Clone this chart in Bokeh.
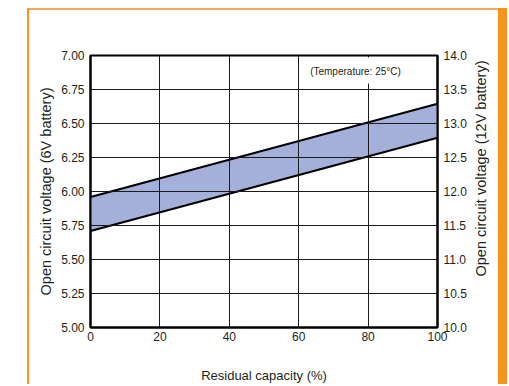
import math
from bokeh.plotting import figure
from bokeh.models import (Range1d, LinearAxis, FixedTicker, NumeralTickFormatter,
                          BoxAnnotation, Label)
from bokeh.embed import file_html
from bokeh.resources import INLINE

# ---- data ----
capacity = [0, 100]                 # residual capacity (%)
upper_6v = [5.96, 6.645]            # upper edge of band (6V battery)
lower_6v = [5.71, 6.395]            # lower edge of band (6V battery)
x_ticks = [0, 20, 40, 60, 80, 100]
y6_ticks = [5.00, 5.25, 5.50, 5.75, 6.00, 6.25, 6.50, 6.75, 7.00]
y12_ticks = [10.0, 10.5, 11.0, 11.5, 12.0, 12.5, 13.0, 13.5, 14.0]
note = "(Temperature: 25°C)"
x_title = "Residual capacity (%)"
y6_title = "Open circuit voltage (6V battery)"
y12_title = "Open circuit voltage (12V battery)"

FONT = "Liberation Sans"
TXT = "#231F20"
ORANGE = "#F7941D"

p = figure(width=471, height=376, output_backend="svg", toolbar_location=None,
           x_range=Range1d(0, 100), y_range=Range1d(5, 7),
           min_border_left=61, min_border_right=63, min_border_top=45,
           min_border_bottom=59)
p.styles = {"margin-left": "27px",
            "margin-top": "8px",
            "border-left": "2px solid " + ORANGE,
            "border-top": "2px solid #F9A75E",
            "box-shadow": "9px 0 0 0 " + ORANGE}

p.extra_y_ranges = {"v12": Range1d(10, 14)}

p.background_fill_color = "white"
p.border_fill_color = "white"
p.outline_line_color = "black"
p.outline_line_width = 2

# band
p.varea(x=capacity, y1=lower_6v, y2=upper_6v, fill_color="#A4AFDA",
        fill_alpha=1.0, level="underlay")
p.line(capacity, upper_6v, line_color="black", line_width=2)
p.line(capacity, lower_6v, line_color="black", line_width=2)

# grids
for g in (p.xgrid, p.ygrid):
    g.grid_line_color = "#1a1a1a"
    g.grid_line_width = 1
    g.grid_line_alpha = 1.0
    g.level = "glyph"

# axes
p.xaxis.ticker = FixedTicker(ticks=x_ticks)
p.yaxis.ticker = FixedTicker(ticks=y6_ticks)
p.yaxis.formatter = NumeralTickFormatter(format="0.00")
p.xaxis.axis_label = x_title
p.yaxis.axis_label = y6_title

right = LinearAxis(y_range_name="v12", ticker=FixedTicker(ticks=y12_ticks),
                   formatter=NumeralTickFormatter(format="0.0"))
p.add_layout(right, "right")

for ax in (p.xaxis[0], p.yaxis[0], right):
    ax.axis_line_color = "black"
    ax.axis_line_width = 2
    ax.major_tick_in = 0
    ax.major_tick_out = 0
    ax.minor_tick_in = 0
    ax.minor_tick_out = 0
    ax.major_label_text_font = FONT
    ax.major_label_text_font_size = "12px"
    ax.major_label_text_color = TXT
    ax.axis_label_text_font = FONT
    ax.axis_label_text_font_style = "normal"
    ax.axis_label_text_color = TXT

p.xaxis.major_label_standoff = 4
p.xaxis.axis_label_text_font_size = "13px"
p.xaxis.axis_label_standoff = 24
p.yaxis.major_label_standoff = 6
p.yaxis.axis_label_text_font_size = "14.5px"
p.yaxis.axis_label_standoff = 4
right.major_label_standoff = 6

# right-hand title, reading bottom-to-top like the left one
p.add_layout(Label(x=449, y=156, x_units="canvas", y_units="canvas",
                   angle=math.pi / 2, text=y12_title, text_align="center",
                   text_baseline="middle", text_font=FONT,
                   text_font_size="14.5px", text_color=TXT), "right")

# temperature note with white backing box
p.add_layout(BoxAnnotation(left=61, right=99, bottom=6.795, top=6.985,
                           fill_color="white", fill_alpha=1.0,
                           line_color=None, level="annotation"))
p.add_layout(Label(x=63.3, y=6.882, text=note, text_baseline="middle",
                   text_font=FONT, text_font_size="10px", text_color=TXT))

open("out.html", "w").write(file_html(p, INLINE))
